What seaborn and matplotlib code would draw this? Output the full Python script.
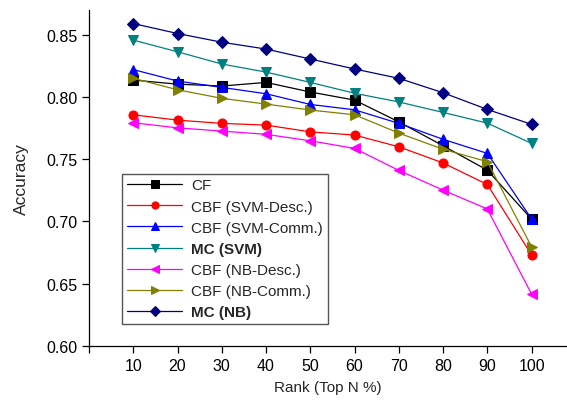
import numpy as np
import pandas as pd
import seaborn as sns
import matplotlib.pyplot as plt

rank = [10, 20, 30, 40, 50, 60, 70, 80, 90, 100]

cf = [0.8136, 0.8103, 0.8088, 0.8117, 0.8040, 0.7975, 0.7800, 0.7608, 0.7412, 0.7019]
cbf_svm_desc = [0.7857, 0.7814, 0.7788, 0.7774, 0.7720, 0.7694, 0.7600, 0.7470, 0.7297, 0.6731]
cbf_svm_comm = [0.8220, 0.8128, 0.8077, 0.8026, 0.7940, 0.7897, 0.7788, 0.7660, 0.7547, 0.7020]
mc_svm = [0.8457, 0.8363, 0.8265, 0.8200, 0.8117, 0.8030, 0.7960, 0.7876, 0.7790, 0.7627]
cbf_nb_desc = [0.7793, 0.7752, 0.7726, 0.7700, 0.7648, 0.7587, 0.7410, 0.7252, 0.7100, 0.6416]
cbf_nb_comm = [0.8150, 0.8058, 0.7989, 0.7943, 0.7895, 0.7857, 0.7710, 0.7580, 0.7480, 0.6796]
mc_nb = [0.8590, 0.8510, 0.8440, 0.8385, 0.8305, 0.8225, 0.8150, 0.8034, 0.7900, 0.7780]

labels = ["CF", "CBF (SVM-Desc.)", "CBF (SVM-Comm.)", "MC (SVM)",
          "CBF (NB-Desc.)", "CBF (NB-Comm.)", "MC (NB)"]
series = [cf, cbf_svm_desc, cbf_svm_comm, mc_svm, cbf_nb_desc, cbf_nb_comm, mc_nb]
colors = ["#000000", "#ff0000", "#0000ff", "#008080", "#ff00ff", "#808000", "#000080"]
markers = ["s", "o", "^", "v", "<", ">", "D"]
bold = ["MC (SVM)", "MC (NB)"]

sns.set_theme(style="ticks")
plt.rcParams["font.family"] = ["Liberation Sans", "DejaVu Sans"]

fig = plt.figure(figsize=(5.67, 4.02), dpi=100)
ax = fig.add_axes([0.157, 0.137, 0.843, 0.836])

for lab, vals, col, mk in zip(labels, series, colors, markers):
    df = pd.DataFrame({"rank": rank, "acc": vals})
    sns.lineplot(data=df, x="rank", y="acc", ax=ax, color=col, marker=mk,
                 markersize=6.5, markeredgecolor=col, linewidth=0.9, label=lab)

ax.set_xlim(0, 108)
ax.set_ylim(0.60, 0.87)
ax.set_xticks([0] + rank)
ax.set_xticklabels([""] + [str(r) for r in rank])
ax.set_yticks([0.60, 0.65, 0.70, 0.75, 0.80, 0.85])
ax.set_yticklabels(["0.60", "0.65", "0.70", "0.75", "0.80", "0.85"])
ax.tick_params(direction="out", length=5, width=0.9, labelsize=11.5, colors="black")
ax.set_xlabel("Rank (Top N %)", fontsize=11, labelpad=5)
ax.set_ylabel("Accuracy", fontsize=12.5, labelpad=12)

sns.despine(ax=ax)
for s in ["left", "bottom"]:
    ax.spines[s].set_linewidth(0.9)
    ax.spines[s].set_color("black")

leg = ax.legend(loc="lower left", bbox_to_anchor=(0.07, 0.065), borderaxespad=0,
                fontsize=11, fancybox=False, framealpha=1, edgecolor="#555555",
                handlelength=3.6, handletextpad=0.6, labelspacing=0.47, borderpad=0.3,
                markerscale=0.8)
leg.get_frame().set_linewidth(1.0)
for t in leg.get_texts():
    if t.get_text() in bold:
        t.set_fontweight("bold")

fig.savefig("out.png", dpi=100)
